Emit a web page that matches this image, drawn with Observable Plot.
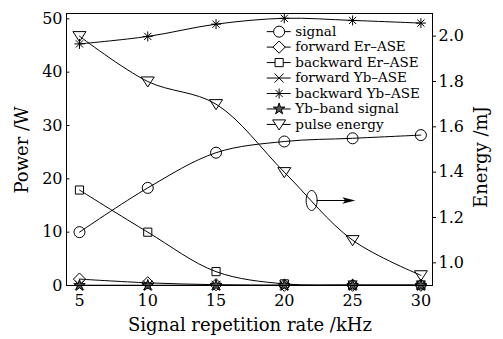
<!DOCTYPE html>
<html>
<head>
<meta charset="utf-8">
<script src="https://cdn.jsdelivr.net/npm/d3@7"></script>
<script src="https://cdn.jsdelivr.net/npm/@observablehq/plot@0.6"></script>
<style>
  html, body { margin: 0; padding: 0; background: #fff; }
  #chart svg { display: block; }
</style>
</head>
<body>
<div id="chart"></div>
<script>
// ---- Data ----
const rates = [5, 10, 15, 20, 25, 30];             // kHz
const signalP = [10.0, 18.3, 24.9, 27.0, 27.6, 28.2];  // W
const fwdErASE = [1.2, 0.5, 0.15, 0.05, 0.05, 0.05];   // W
const bwdErASE = [17.9, 10.0, 2.6, 0.3, 0.1, 0.1];     // W
const fwdYbASE = [0.05, 0.05, 0.05, 0.05, 0.05, 0.05]; // W
const bwdYbASE = [45.3, 46.7, 49.0, 50.1, 49.7, 49.2]; // W
const ybBand = [0.0, 0.0, 0.0, 0.0, 0.0, 0.0];         // W
const pulseEnergy = [2.0, 1.80, 1.70, 1.40, 1.10, 0.945]; // mJ

const xTicks = [5, 10, 15, 20, 25, 30];
const powerTicks = [0, 10, 20, 30, 40, 50];
const energyTicks = [1.0, 1.2, 1.4, 1.6, 1.8, 2.0];
const seriesNames = ["signal", "forward Er\u2013ASE", "backward Er\u2013ASE", "forward Yb\u2013ASE",
  "backward Yb\u2013ASE", "Yb\u2013band signal", "pulse energy"];

// annotation (energy axis)
const noteX = 22, noteE = 1.275, arrowEndX = 25.2;

// ---- Scales helpers ----
const pDomain = [0, 51];
const eDomain = [0.9, 2.1];
const e2p = e => (e - eDomain[0]) / (eDomain[1] - eDomain[0]) * (pDomain[1] - pDomain[0]) + pDomain[0];
const p2e = p => (p - pDomain[0]) / (pDomain[1] - pDomain[0]) * (eDomain[1] - eDomain[0]) + eDomain[0];

// custom symbols
const triDown = {draw(c, size) { const s = 6.5; c.moveTo(-s, -s*0.7); c.lineTo(s, -s*0.7); c.lineTo(0, s*0.85); c.closePath(); }};
const star8 = {draw(c, size) { const s = 5; const d = s*0.72;
  c.moveTo(-s,0); c.lineTo(s,0); c.moveTo(0,-s); c.lineTo(0,s);
  c.moveTo(-d,-d); c.lineTo(d,d); c.moveTo(-d,d); c.lineTo(d,-d); }};
const ellipse = {draw(c, size) { const rx = 5.5, ry = 10, k = 0.5523;
  c.moveTo(rx, 0); c.bezierCurveTo(rx, ry*k, rx*k, ry, 0, ry);
  c.bezierCurveTo(-rx*k, ry, -rx, ry*k, -rx, 0);
  c.bezierCurveTo(-rx, -ry*k, -rx*k, -ry, 0, -ry);
  c.bezierCurveTo(rx*k, -ry, rx, -ry*k, rx, 0); c.closePath(); }};
const arrowHead = {draw(c, size) { c.moveTo(0, 0); c.lineTo(-13, -3.2); c.lineTo(-10, 0); c.lineTo(-13, 3.2); c.closePath(); }};

const symbols = ["circle", "diamond2", "square", "times", star8, "star", triDown];
const symR = [5.5, 5.5, 4.6, 4.2, 4.5, 3.6, 4.5];
const symFill = ["none", "none", "none", "none", "none", "#555", "none"];

// build series table
const seriesVals = [signalP, fwdErASE, bwdErASE, fwdYbASE, bwdYbASE, ybBand, pulseEnergy.map(e2p)];
const rows = [];
seriesVals.forEach((vals, si) => vals.forEach((v, i) => rows.push({s: si, x: rates[i], y: v})));

// legend positions in data coords
const xDom = [4.05, 30.85];
const legRows = seriesNames.map((name, i) => ({name, i, y: 47.6 - i * 2.9}));
const legX1 = 18.75, legX2 = 20.5, legXm = 19.62, legXt = 20.8;

const font = "'DejaVu Serif', serif";
const marks = [];
// lines
seriesVals.forEach((vals, si) => {
  marks.push(Plot.line(rows.filter(r => r.s === si), {x: "x", y: "y", curve: "catmull-rom", stroke: "black", strokeWidth: 1}));
});
// markers
seriesVals.forEach((vals, si) => {
  marks.push(Plot.dot(rows.filter(r => r.s === si), {x: "x", y: "y", symbol: () => symbols[si], r: symR[si],
    stroke: "black", strokeWidth: 1, fill: symFill[si]}));
});
// legend
marks.push(Plot.ruleY(legRows, {y: "y", x1: legX1, x2: legX2, stroke: "black", strokeWidth: 1}));
legRows.forEach(l => {
  marks.push(Plot.dot([l], {x: legXm, y: "y", symbol: () => symbols[l.i], r: symR[l.i], stroke: "black", strokeWidth: 1, fill: symFill[l.i] === "none" ? "white" : symFill[l.i]}));
});
marks.push(Plot.text(legRows, {x: legXt, y: "y", text: "name", textAnchor: "start", fontSize: 13.5, fill: "black", fontFamily: font}));
// annotation
marks.push(Plot.dot([{x: noteX, y: e2p(noteE)}], {x: "x", y: "y", symbol: () => ellipse, r: 5, stroke: "black", strokeWidth: 1, fill: "none"}));
marks.push(Plot.ruleY([e2p(noteE)], {x1: noteX + 0.4, x2: arrowEndX - 0.3, stroke: "black", strokeWidth: 1}));
marks.push(Plot.dot([{x: arrowEndX, y: e2p(noteE)}], {x: "x", y: "y", symbol: () => arrowHead, r: 5, fill: "black", stroke: "none"}));
// left inward ticks
marks.push(Plot.ruleY(powerTicks, {x1: xDom[0], x2: xDom[0] + 0.25, stroke: "black", strokeWidth: 1}));
// axes
marks.push(Plot.axisX(xTicks, {tickSize: 0, tickPadding: 9, fontSize: 16, label: null}));
marks.push(Plot.axisY(powerTicks, {anchor: "left", tickSize: 0, tickPadding: 4, fontSize: 16, label: null}));
marks.push(Plot.axisY(energyTicks.map(e2p), {anchor: "right", tickSize: 3, tickPadding: 3, fontSize: 16, label: null,
  tickFormat: d => p2e(d).toFixed(1)}));
marks.push(Plot.frame({stroke: "black", strokeWidth: 1}));

const chart = Plot.plot({
  width: 503,
  height: 339,
  marginLeft: 66,
  marginRight: 71,
  marginTop: 13,
  marginBottom: 54,
  style: {fontFamily: font, color: "black", background: "white"},
  x: {domain: xDom},
  y: {domain: pDomain},
  marks
});

// axis titles as real text within the svg
const svg = d3.select(chart);
svg.append("text").attr("x", 250).attr("y", 331).attr("text-anchor", "middle")
  .attr("font-family", font).attr("font-size", 18).text("Signal repetition rate /kHz");
svg.append("text").attr("transform", "translate(28,150) rotate(-90)").attr("text-anchor", "middle")
  .attr("font-family", font).attr("font-size", 18).text("Power /W");
svg.append("text").attr("transform", "translate(487,157) rotate(-90)").attr("text-anchor", "middle")
  .attr("font-family", font).attr("font-size", 18).text("Energy /mJ");

document.getElementById("chart").appendChild(chart);
</script>
</body>
</html>
